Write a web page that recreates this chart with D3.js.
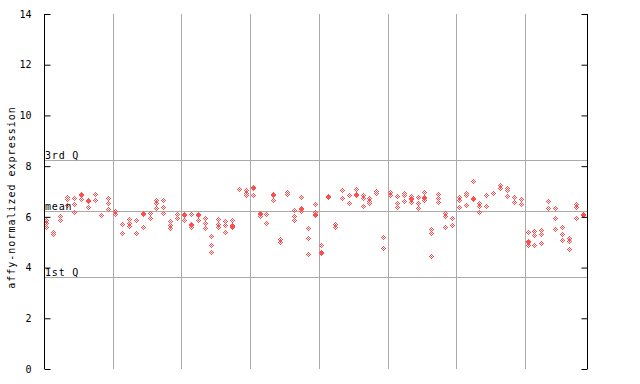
<!DOCTYPE html>
<html><head><meta charset="utf-8">
<script src="https://cdn.jsdelivr.net/npm/d3@7"></script>
<style>body{margin:0;background:#fff}svg{display:block}</style>
</head><body><div id="chart"></div>
<script>
const yTicks = [0, 2, 4, 6, 8, 10, 12, 14];
const refLabels = ["1st Q", "mean", "3rd Q"];
const refValues = [3.62, 6.23, 8.24];
const groupSize = 10;
const sampleValues = [
  [5.85,5.7,5.58],[5.38,5.3],[6.0,5.84,5.82],[6.74,6.65,6.41],[6.72,6.45,6.17],
  [6.86,6.84,6.65],[6.62,6.6,6.35],[6.85,6.61],[6.02],[6.72,6.49,6.28],
  [6.19,6.09],[5.68,5.66,5.32],[5.86,5.73,5.6],[5.85,5.83,5.32],[6.1,6.08,5.56],
  [6.12,6.1,5.93],[6.61,6.51,6.3],[6.61,6.35,6.1],[5.8,5.63,5.53],[6.09,5.93],
  [6.07,6.05,5.82],[6.06,5.68,5.65,5.56],[6.07,6.05,5.82],[5.93,5.72,5.53],[5.19,4.85,4.59],
  [5.86,5.68,5.66,5.56],[5.8,5.64,5.38],[5.82,5.63,5.61,5.56],[7.06,7.04],[7.01,6.9,6.82],
  [7.15,7.09,6.82],[6.1,6.08,6.0],[6.09,5.73],[6.86,6.84,6.61],[5.07,4.98,4.96],
  [6.95,6.85],[6.22,6.0,5.82],[6.74,6.31,6.29,6.19],[5.51,5.11,4.48],[6.45,6.17,6.07,6.05],
  [4.85,4.57,4.55],[6.77,6.75],[5.68,5.57,5.55],[7.01,6.72],[6.82,6.49],
  [7.05,6.86,6.84],[6.83,6.81,6.72,6.39],[6.69,6.59,6.51],[6.98,6.91,6.89],[5.17,4.72],
  [6.95,6.82],[6.77,6.52,6.35],[6.9,6.82,6.59],[6.78,6.69,6.67,6.55],[6.74,6.52,6.32],
  [6.95,6.73,6.71,6.61],[5.47,5.34,4.4],[6.87,6.72,6.56],[6.13,5.98,5.56],[5.9,5.64],
  [6.74,6.61,6.35],[6.91,6.82,6.43],[7.37,6.7,6.68],[6.52,6.39,6.17],[6.82,6.39],
  [6.92,6.9],[7.23,7.21,7.11],[7.11,7.01,6.78],[6.75,6.73,6.56],[6.65,6.48],
  [5.36,5.0,4.98,4.87],[5.4,5.23,4.85],[5.43,5.3,4.93],[6.59,6.3],[6.3,5.93,5.47],
  [5.56,5.27,5.06],[5.14,5.01,4.68],[6.45,6.36,6.34,5.93],[6.07,6.05]
];

const W = 640, H = 384;
const L = 44, R = 587, T = 14, B = 369;
const red = "#ff4d4d";
const font = "'DejaVu Sans Mono', monospace";

const svg = d3.select("#chart").append("svg").attr("width", W).attr("height", H);
const defs = svg.append("defs");
const pat = defs.append("pattern").attr("id", "chk").attr("width", 2).attr("height", 2)
  .attr("patternUnits", "userSpaceOnUse");
pat.append("rect").attr("x", 0).attr("y", 0).attr("width", 1).attr("height", 1).attr("fill", red);
pat.append("rect").attr("x", 1).attr("y", 1).attr("width", 1).attr("height", 1).attr("fill", red);

const x = d3.scaleBand().domain(d3.range(sampleValues.length)).range([L, L + sampleValues.length * ((R - L) / sampleValues.length)]).padding(0);
const y = d3.scaleLinear().domain([0, 14]).range([B, T]);

// vertical group separators
const seps = d3.range(groupSize, sampleValues.length, groupSize);
svg.append("g").selectAll("line").data(seps).join("line")
  .attr("x1", d => Math.round(x(d)) + 0.5).attr("x2", d => Math.round(x(d)) + 0.5)
  .attr("y1", T).attr("y2", B).attr("stroke", "#aaaaaa").attr("stroke-width", 1);

// reference lines
svg.append("g").selectAll("line").data(refValues).join("line")
  .attr("x1", L).attr("x2", R)
  .attr("y1", d => Math.round(y(d)) + 0.5).attr("y2", d => Math.round(y(d)) + 0.5)
  .attr("stroke", "#aaaaaa").attr("stroke-width", 1);

// points
const pts = [];
sampleValues.forEach((vals, i) => vals.forEach(v => pts.push({i, v})));
svg.append("g").selectAll("g").data(pts).join("g")
  .attr("transform", d => `translate(${Math.round(x(d.i) + x.bandwidth() / 2) - 1},${Math.round(y(d.v)) - 1})`)
  .append("path")
  .attr("d", "M0.5,-3 L4,0.5 L0.5,4 L-3,0.5 Z")
  .attr("fill", "url(#chk)")
  .attr("shape-rendering", "crispEdges");

// reference labels
svg.append("g").selectAll("text").data(refValues).join("text")
  .attr("x", L + 1).attr("y", d => Math.round(y(d)) - 1)
  .attr("font-family", font).attr("font-size", 10).attr("letter-spacing", 0.8)
  .attr("fill", "#000").text((d, k) => refLabels[k]);

// axes
const axL = d3.axisLeft(y).tickValues(yTicks).tickSize(-6).tickPadding(13).tickFormat(d3.format("d"));
const gL = svg.append("g").attr("transform", `translate(${L + 0.5},0)`).call(axL);
gL.select(".domain").attr("d", `M0,${T}V${B}`).attr("stroke", "#000");
gL.selectAll(".tick line").attr("stroke", "#000");
gL.selectAll(".tick text").attr("font-family", font).attr("font-size", 10).attr("fill", "#000");

const axR = d3.axisRight(y).tickValues(yTicks).tickSize(-6).tickFormat("");
const gR = svg.append("g").attr("transform", `translate(${R + 0.5},0)`).call(axR);
gR.select(".domain").attr("d", `M0,${T}V${B}`).attr("stroke", "#000");
gR.selectAll(".tick line").attr("stroke", "#000");

// y title
svg.append("text")
  .attr("transform", `translate(15,${(T + B) / 2 + 6}) rotate(-90)`)
  .attr("text-anchor", "middle")
  .attr("font-family", font).attr("font-size", 10).attr("letter-spacing", 1)
  .attr("fill", "#000").text("affy-normalized expression");
</script></body></html>
